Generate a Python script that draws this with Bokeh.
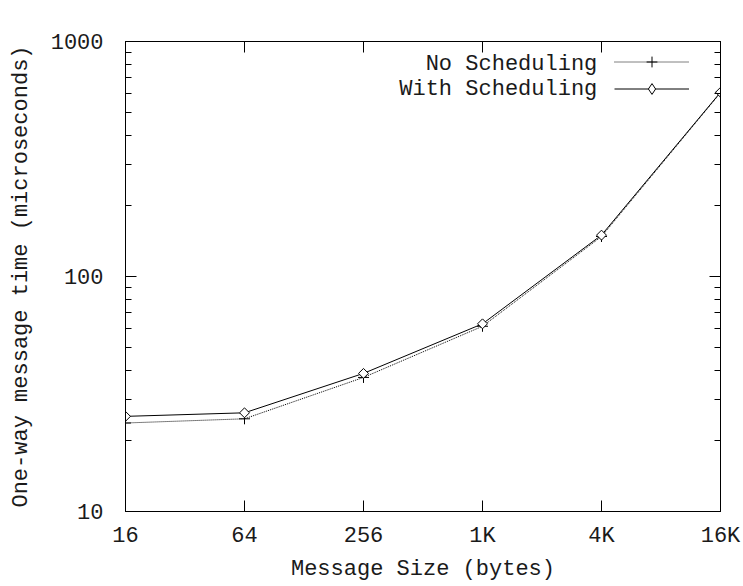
import numpy as np
from bokeh.plotting import figure
from bokeh.models import (LogAxis, FixedTicker, Legend, LegendItem, Label,
                          CustomLabelingPolicy)
from bokeh.embed import file_html
from bokeh.resources import INLINE

sizes = [16, 64, 256, 1024, 4096, 16384]
size_labels = ["16", "64", "256", "1K", "4K", "16K"]
no_sched = [23.8, 24.8, 37.2, 61.4, 148, 605]
with_sched = [25.4, 26.3, 38.7, 62.9, 150, 608]
y_major = [10, 100, 1000]
y_minor = [20, 30, 40, 50, 60, 70, 80, 90, 200, 300, 400, 500, 600, 700, 800, 900]
series_names = ["No Scheduling", "With Scheduling"]

FONT = "Liberation Mono"
FS = "22px"
TXT = "#1a1a1a"

p = figure(width=743, height=586, x_axis_type="log", y_axis_type="log",
           x_range=(16, 16384), y_range=(10, 1000),
           output_backend="svg", toolbar_location=None,
           min_border_left=125, min_border_top=41, min_border_right=23,
           min_border_bottom=75)
p.grid.visible = False
p.outline_line_color = "black"
p.outline_line_width = 1
p.background_fill_color = "white"
p.border_fill_color = "white"

hide_all = CustomLabelingPolicy(code="return [...indices].filter(() => false)")

def style(ax, ticker, labels=True):
    ax.ticker = ticker
    ax.axis_line_color = "black"
    ax.major_tick_in = 11
    ax.major_tick_out = 0
    ax.minor_tick_in = 6
    ax.minor_tick_out = 0
    ax.major_tick_line_color = "black"
    ax.minor_tick_line_color = "black"
    ax.major_label_text_font = FONT
    ax.major_label_text_font_size = FS if labels else "6px"
    ax.major_label_text_color = TXT
    ax.axis_label_text_font = FONT
    ax.axis_label_text_font_size = FS
    ax.axis_label_text_font_style = "normal"
    ax.axis_label_text_color = TXT
    if not labels:
        ax.major_label_policy = hide_all
        ax.major_label_standoff = 0

xa = p.xaxis[0]
style(xa, FixedTicker(ticks=sizes, minor_ticks=[]))
xa.major_label_overrides = {s: l for s, l in zip(sizes, size_labels)}
xa.major_label_standoff = 12
xa.axis_label = "Message Size (bytes)"
xa.axis_label_standoff = 5

ya = p.yaxis[0]
style(ya, FixedTicker(ticks=y_major, minor_ticks=y_minor))
ya.major_label_overrides = {10: "10", 100: "100", 1000: "1000"}
ya.major_label_standoff = 22
ya.axis_label = "One-way message time (microseconds)"
ya.axis_label_standoff = 14

top = LogAxis()
style(top, FixedTicker(ticks=sizes, minor_ticks=[]), labels=False)
p.add_layout(top, "above")
right = LogAxis()
style(right, FixedTicker(ticks=y_major, minor_ticks=y_minor), labels=False)
p.add_layout(right, "right")

l1 = p.line(sizes, no_sched, line_color="black", line_width=1, line_dash="1 1")
s1 = p.scatter(sizes, no_sched, marker="cross", size=11, line_color="black", line_width=1)
l2 = p.line(sizes, with_sched, line_color="black", line_width=1)
s2 = p.scatter(sizes, with_sched, marker="square", angle=np.pi / 4, size=7,
               line_color="black", fill_color="white", line_width=1)
# hidden twin, used only to draw a diamond sample in the legend
s2_leg = p.scatter(sizes, with_sched, marker="diamond", line_color="black",
                   fill_color="white", line_width=1, visible=False)

leg = Legend(items=[LegendItem(label=" ", renderers=[l1, s1]),
                    LegendItem(label=" ", renderers=[l2, s2_leg])],
             location=(489, 409), glyph_width=75, glyph_height=27, spacing=0,
             padding=0, margin=0, border_line_alpha=0, background_fill_alpha=0,
             inactive_fill_alpha=0,
             label_standoff=0, label_height=25, label_text_font_size="6px")
p.add_layout(leg, "center")

for name, yv in zip(series_names, [798, 625]):
    p.add_layout(Label(x=3900, y=yv, text=name, text_align="right",
                       text_baseline="middle", text_font=FONT, text_font_size=FS,
                       text_color=TXT))

open("out.html", "w").write(file_html(p, INLINE))
